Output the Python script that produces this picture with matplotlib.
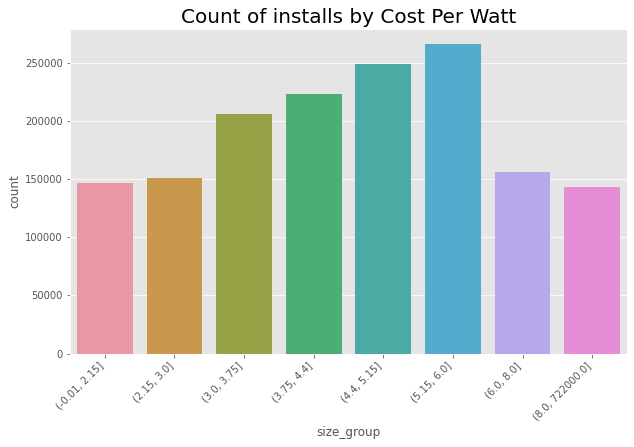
import matplotlib
matplotlib.use("Agg")
import matplotlib.pyplot as plt
import seaborn as sns

plt.style.use("ggplot")

categories = ["(-0.01, 2.15]", "(2.15, 3.0]", "(3.0, 3.75]", "(3.75, 4.4]",
              "(4.4, 5.15]", "(5.15, 6.0]", "(6.0, 8.0]", "(8.0, 722000.0]"]
counts = [146800, 151100, 206300, 223500, 249400, 266600, 156300, 143400]

W, H, DPI = 634, 447, 72
fig = plt.figure(figsize=(W / DPI, H / DPI), dpi=DPI)
ax = fig.add_axes([70 / W, (H - 353.5) / H, (627 - 70) / W, (353.5 - 28.6) / H])

pal = [sns.desaturate(c, 0.75) for c in sns.husl_palette(len(categories), l=0.7)]
x = list(range(len(categories)))
ax.bar(x, counts, width=0.8, color=pal)
ax.set_xlim(-0.5, len(categories) - 0.5)
ax.set_xticks(x)
ax.set_xticklabels(categories, rotation=45, ha="right")
ax.set_ylim(0, max(counts) * 1.05)
ax.xaxis.grid(False)
ax.set_xlabel("size_group")
ax.set_ylabel("count")
ax.set_title("Count of installs by Cost Per Watt", fontsize=20)

fig.savefig("out.png", dpi=DPI)
